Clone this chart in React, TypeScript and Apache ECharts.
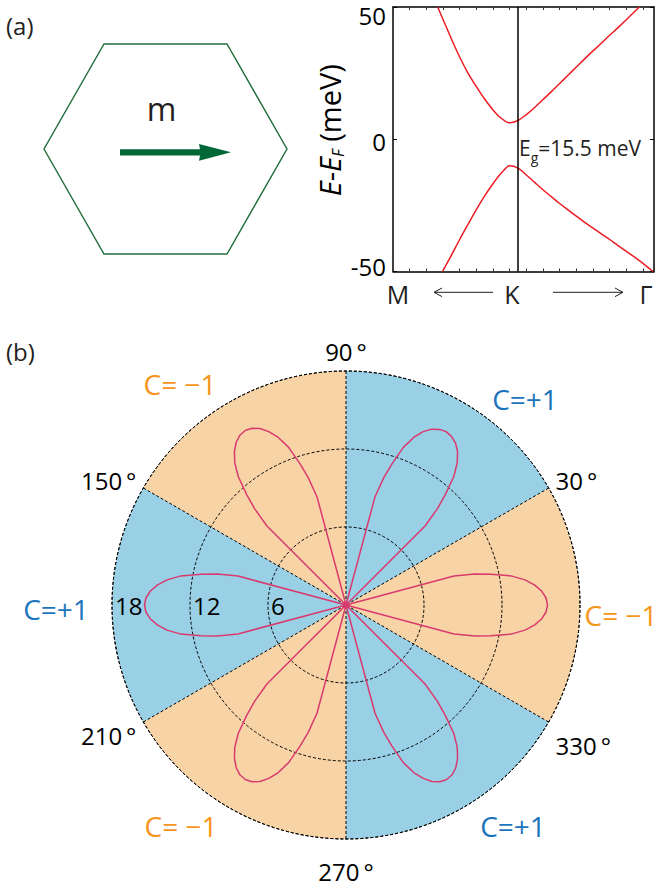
import React, { useEffect, useRef } from 'react';
import * as echarts from 'echarts';

// ---------- panel (a): band structure near K ----------
const yTicks = [-50, 0, 50];
const kPathLabels = ['M', 'K', 'Γ'];
const kPointPos = 7.5;
const cbK = [2.68, 3.0, 3.5, 4.0, 4.5, 5.0, 5.5, 6.0, 6.5, 7.0, 7.5, 8.0, 8.5, 9.0, 9.5, 10.0, 10.5, 11.0, 11.5, 12.0, 12.5, 13.0, 13.5, 14.0, 14.5, 14.78];
const cbE = [50, 45.3, 38.0, 31.1, 25.0, 19.9, 15.2, 11.1, 7.9, 6.2, 7.1, 9.3, 12.0, 15.0, 18.0, 21.1, 24.2, 27.3, 30.4, 33.4, 36.3, 39.3, 42.2, 45.2, 48.3, 50];
const vbK = [2.97, 3.5, 4.0, 4.5, 5.0, 5.5, 6.0, 6.5, 7.0, 7.5, 8.0, 8.5, 9.0, 9.5, 10.0, 10.5, 11.0, 11.5, 12.0, 12.5, 13.0, 13.5, 14.0, 14.5, 15.0, 15.6];
const vbE = [-50, -43.9, -37.9, -32.2, -26.6, -21.4, -16.8, -12.8, -10.0, -10.9, -13.5, -16.3, -19.1, -21.7, -24.3, -26.7, -29.1, -31.4, -33.6, -35.8, -37.9, -40.2, -42.4, -44.6, -46.9, -50];
const gapValue = '15.5';

// ---------- panel (b): polar plot ----------
const sectorBands = ['90-150', '150-210', '210-270', '270-330', '330-30', '30-90'];
const sectorChern = [-1, 1, -1, 1, -1, 1];
const radiusMax = 18;
const radiusTicks = [6, 12, 18];
const angleTickLabels = [30, 90, 150, 210, 270, 330];
const lobeAngle = [
  0, 2, 4, 6, 8, 10, 12, 13.5, 15, 15.5,
  44.5, 45, 46.5, 48, 50, 52, 54, 56, 58, 60, 62, 64, 66, 68, 70, 72, 73.5, 75, 75.5,
  104.5, 105, 106.5, 108, 110, 112, 114, 116, 118, 120, 122, 124, 126, 128, 130, 132, 133.5, 135, 135.5,
  164.5, 165, 166.5, 168, 170, 172, 174, 176, 178, 180, 182, 184, 186, 188, 190, 192, 193.5, 195, 195.5,
  224.5, 225, 226.5, 228, 230, 232, 234, 236, 238, 240, 242, 244, 246, 248, 250, 252, 253.5, 255, 255.5,
  284.5, 285, 286.5, 288, 290, 292, 294, 296, 298, 300, 302, 304, 306, 308, 310, 312, 313.5, 315, 315.5,
  344.5, 345, 346.5, 348, 350, 352, 354, 356, 358, 360,
];
const lobeRadius = [
  15.5, 15.4, 15.1, 14.6, 13.9, 12.9, 11.4, 10.2, 8.6, 0,
  0, 8.6, 10.2, 11.4, 12.9, 13.9, 14.6, 15.05, 15.3, 15.4, 15.3, 15.05, 14.6, 13.9, 12.9, 11.4, 10.2, 8.6, 0,
  0, 8.6, 10.2, 11.4, 12.9, 13.9, 14.6, 15.1, 15.4, 15.5, 15.4, 15.1, 14.6, 13.9, 12.9, 11.4, 10.2, 8.6, 0,
  0, 8.6, 10.2, 11.4, 12.9, 13.9, 14.6, 15.1, 15.4, 15.5, 15.4, 15.1, 14.6, 13.9, 12.9, 11.4, 10.2, 8.6, 0,
  0, 8.6, 10.2, 11.4, 12.9, 13.9, 14.6, 15.1, 15.4, 15.5, 15.4, 15.1, 14.6, 13.9, 12.9, 11.4, 10.2, 8.6, 0,
  0, 8.6, 10.2, 11.4, 12.9, 13.9, 14.6, 15.1, 15.4, 15.5, 15.4, 15.1, 14.6, 13.9, 12.9, 11.4, 10.2, 8.6, 0,
  0, 8.6, 10.2, 11.4, 12.9, 13.9, 14.6, 15.1, 15.4, 15.5,
];
const chernLabels = ['C= \u22121', 'C=+1', 'C=+1', 'C= \u22121', 'C= \u22121', 'C=+1'];

const FONT = 'Open Sans';
const ORANGE_FILL = '#F8D3A6';
const BLUE_FILL = '#99D0E6';
const ORANGE_TEXT = '#F7941D';
const BLUE_TEXT = '#1C75BC';
const GREEN = '#006837';
const CX = 346;
const CY = 605;
const R = 234;

export default function App() {
  const ref = useRef<HTMLDivElement>(null);
  useEffect(() => {
    document.body.style.margin = '0';
    if (!ref.current) return;
    const chart = echarts.init(ref.current, null, { renderer: 'svg' });

    const angleLineHeights: Record<number, number> = { 30: 7, 90: 24, 150: 8, 210: 18, 270: 48, 330: 38 };
    const angleRich: any = {};
    angleTickLabels.forEach((a) => {
      angleRich['a' + a] = { fontSize: 24, fontFamily: FONT, color: '#000', lineHeight: angleLineHeights[a] };
    });

    const dashed = { color: '#000', type: [3, 2], width: 1 };
    const chernPos = [
      [180, 384], [525, 399], [56, 609], [621, 615], [181, 826], [513, 826],
    ];
    const chernColor = (t: string) => (t.indexOf('+') >= 0 ? BLUE_TEXT : ORANGE_TEXT);

    const option: any = {
      animation: false,
      textStyle: { fontFamily: FONT },
      grid: [{ left: 393, top: 7, width: 261, height: 264.5, show: false }],
      xAxis: [0, 1].map((i) => ({
        gridIndex: 0,
        type: 'value',
        min: 0,
        max: 15.66,
        interval: 1,
        position: i === 0 ? 'bottom' : 'top',
        axisLine: { show: true, onZero: false, lineStyle: { color: '#000', width: 1.5 } },
        axisTick: { show: true, inside: true, length: 3, lineStyle: { color: '#333', width: 1 } },
        axisLabel: { show: false },
        splitLine: { show: false },
      })),
      yAxis: [
        {
          gridIndex: 0,
          type: 'value',
          min: -50,
          max: 50,
          interval: 50,
          position: 'left',
          axisLine: { show: true, onZero: false, lineStyle: { color: '#000', width: 1.5 } },
          axisTick: { show: true, inside: true, length: 4, lineStyle: { color: '#000', width: 1 } },
          splitLine: { show: false },
          axisLabel: {
            margin: 7,
            color: '#000',
            fontSize: 24,
            fontFamily: FONT,
            formatter: (v: number) =>
              yTicks.indexOf(v) < 0 ? '' : v === 50 ? '{t|50}' : v === -50 ? '{b|-50}' : '{m|' + v + '}',
            rich: {
              t: { fontSize: 24, fontFamily: FONT, color: '#000', padding: [16, 0, 0, 0] },
              b: { fontSize: 24, fontFamily: FONT, color: '#000', padding: [0, 0, 11, 0] },
              m: { fontSize: 24, fontFamily: FONT, color: '#000', padding: [4, 0, 0, 0] },
            },
          },
          name: '{i|E}{n|-}{i|E}{f|F}{n| (meV)}',
          nameLocation: 'middle',
          nameRotate: 90,
          nameGap: 47,
          nameTextStyle: {
            padding: [0, 0, 0, 18],
            rich: {
              i: { fontSize: 29, fontStyle: 'italic', fontFamily: FONT, color: '#000', lineHeight: 34, verticalAlign: 'middle' },
              n: { fontSize: 29, fontFamily: FONT, color: '#000', lineHeight: 34, verticalAlign: 'middle' },
              f: { fontSize: 16, fontStyle: 'italic', fontFamily: FONT, color: '#000', lineHeight: 14, verticalAlign: 'bottom' },
            },
          },
        },
        {
          gridIndex: 0,
          type: 'value',
          min: -50,
          max: 50,
          interval: 50,
          position: 'right',
          axisLine: { show: true, onZero: false, lineStyle: { color: '#000', width: 1.5 } },
          axisTick: { show: true, inside: true, length: 4, lineStyle: { color: '#000', width: 1 } },
          axisLabel: { show: false },
          splitLine: { show: false },
        },
      ],
      polar: [0, 1, 2].map(() => ({ center: [CX, CY], radius: R })),
      angleAxis: [
        {
          polarIndex: 0,
          type: 'category',
          data: sectorBands,
          startAngle: 90,
          clockwise: false,
          boundaryGap: true,
          z: 3,
          axisLine: { show: true, lineStyle: dashed },
          axisTick: { show: false },
          axisLabel: { show: false },
          splitLine: { show: true, lineStyle: dashed },
        },
        {
          polarIndex: 1,
          type: 'value',
          min: 0,
          max: 360,
          interval: 30,
          startAngle: 0,
          clockwise: false,
          z: 3,
          axisLine: { show: false },
          axisTick: { show: false },
          splitLine: { show: false },
          axisLabel: {
            show: true,
            margin: 8,
            formatter: (v: number) =>
              angleTickLabels.indexOf(v) >= 0 ? '{a' + v + '|' + v + '\u2009°}' : '',
            rich: angleRich,
          },
        },
        {
          polarIndex: 2,
          type: 'value',
          min: 0,
          max: 360,
          startAngle: 180,
          clockwise: false,
          axisLine: { show: false },
          axisTick: { show: false },
          axisLabel: { show: false },
          splitLine: { show: false },
        },
      ],
      radiusAxis: [
        {
          polarIndex: 0,
          type: 'value',
          min: 0,
          max: radiusMax,
          axisLine: { show: false },
          axisTick: { show: false },
          axisLabel: { show: false },
          splitLine: { show: false },
        },
        {
          polarIndex: 1,
          type: 'value',
          min: 0,
          max: radiusMax,
          interval: 6,
          z: 3,
          axisLine: { show: false },
          axisTick: { show: false },
          axisLabel: { show: false },
          splitLine: { show: true, lineStyle: dashed },
        },
        {
          polarIndex: 2,
          type: 'value',
          min: 0,
          max: radiusMax,
          interval: 6,
          z: 4,
          axisLine: { show: false },
          axisTick: { show: false },
          splitLine: { show: false },
          axisLabel: {
            show: true,
            showMinLabel: false,
            margin: 0,
            align: 'left',
            verticalAlign: 'middle',
            padding: [0, 0, 0, 3],
            fontSize: 24,
            fontFamily: FONT,
            color: '#000',
            formatter: (v: number) => (radiusTicks.indexOf(v) >= 0 ? String(v) : ''),
          },
        },
      ],
      series: [
        {
          type: 'line',
          xAxisIndex: 0,
          yAxisIndex: 0,
          data: cbK.map((k, i) => [k, cbE[i]]),
          smooth: 0.3,
          showSymbol: false,
          lineStyle: { color: '#ED1C24', width: 1.5 },
          z: 4,
          markLine: {
            silent: true,
            symbol: 'none',
            label: { show: false },
            lineStyle: { color: '#000', type: 'solid', width: 1.5 },
            data: [{ xAxis: kPointPos }],
          },
        },
        {
          type: 'line',
          xAxisIndex: 0,
          yAxisIndex: 0,
          data: vbK.map((k, i) => [k, vbE[i]]),
          smooth: 0.3,
          showSymbol: false,
          lineStyle: { color: '#ED1C24', width: 1.5 },
          z: 4,
        },
        {
          type: 'bar',
          coordinateSystem: 'polar',
          polarIndex: 0,
          barCategoryGap: '0%',
          silent: true,
          z: 1,
          data: sectorChern.map((c) => ({ value: radiusMax, itemStyle: { color: c > 0 ? BLUE_FILL : ORANGE_FILL } })),
        },
        {
          type: 'line',
          coordinateSystem: 'polar',
          polarIndex: 1,
          showSymbol: false,
          z: 6,
          lineStyle: { color: '#D93A6E', width: 1.5 },
          data: lobeAngle.map((a, i) => [lobeRadius[i], a]),
        },
      ],
      graphic: [
        { type: 'text', left: 6, top: 13, style: { text: '(a)', fontSize: 24, fontFamily: FONT, fill: '#231F20' } },
        { type: 'text', left: 6, top: 339, style: { text: '(b)', fontSize: 24, fontFamily: FONT, fill: '#231F20' } },
        {
          type: 'polygon',
          shape: { points: [[104, 44], [227, 44], [287, 149], [227, 254], [104, 254], [44, 149]] },
          style: { fill: 'none', stroke: '#236E3C', lineWidth: 1.4 },
        },
        {
          type: 'polygon',
          shape: { points: [[120, 149.2], [200, 149.2], [199, 144], [231, 152.3], [199, 160.7], [200, 155.4], [120, 155.4]] },
          style: { fill: GREEN, stroke: 'none' },
        },
        {
          type: 'text',
          x: 161.5,
          y: 108,
          style: { text: 'm', fontSize: 32, fontFamily: FONT, fill: '#231F20', align: 'center', verticalAlign: 'middle' },
        },
        {
          type: 'text',
          x: 519,
          y: 148,
          z: 10,
          style: {
            text: '{n|E}{s|g}{n|=' + gapValue + ' meV}',
            verticalAlign: 'middle',
            rich: {
              n: { fontSize: 21, fontFamily: FONT, fill: '#231F20', lineHeight: 32, verticalAlign: 'middle' },
              s: { fontSize: 14, fontFamily: FONT, fill: '#231F20', lineHeight: 12, verticalAlign: 'bottom' },
            },
          },
        },
        ...kPathLabels.map((t, i) => ({
          type: 'text',
          x: [398, 512, 646][i],
          y: 294,
          style: { text: t, fontSize: 25, fontFamily: FONT, fill: '#231F20', align: 'center', verticalAlign: 'middle' },
        })),
        { type: 'line', shape: { x1: 493, y1: 292.3, x2: 434, y2: 292.3 }, style: { stroke: '#231F20', lineWidth: 1 } },
        { type: 'polyline', shape: { points: [[442, 288], [434, 292.3], [442, 296.6]] }, style: { stroke: '#231F20', lineWidth: 1, fill: 'none' } },
        { type: 'line', shape: { x1: 553, y1: 292.3, x2: 623, y2: 292.3 }, style: { stroke: '#231F20', lineWidth: 1 } },
        { type: 'polyline', shape: { points: [[615, 288], [623, 292.3], [615, 296.6]] }, style: { stroke: '#231F20', lineWidth: 1, fill: 'none' } },
        ...chernLabels.map((t, i) => ({
          type: 'text',
          x: chernPos[i][0],
          y: chernPos[i][1],
          z: 10,
          style: { text: t, fontSize: 28, fontFamily: FONT, fill: chernColor(t), align: 'center', verticalAlign: 'middle' },
        })),
      ],
    };
    chart.setOption(option);
    return () => chart.dispose();
  }, []);
  return <div ref={ref} style={{ width: 657, height: 886 }} />;
}
